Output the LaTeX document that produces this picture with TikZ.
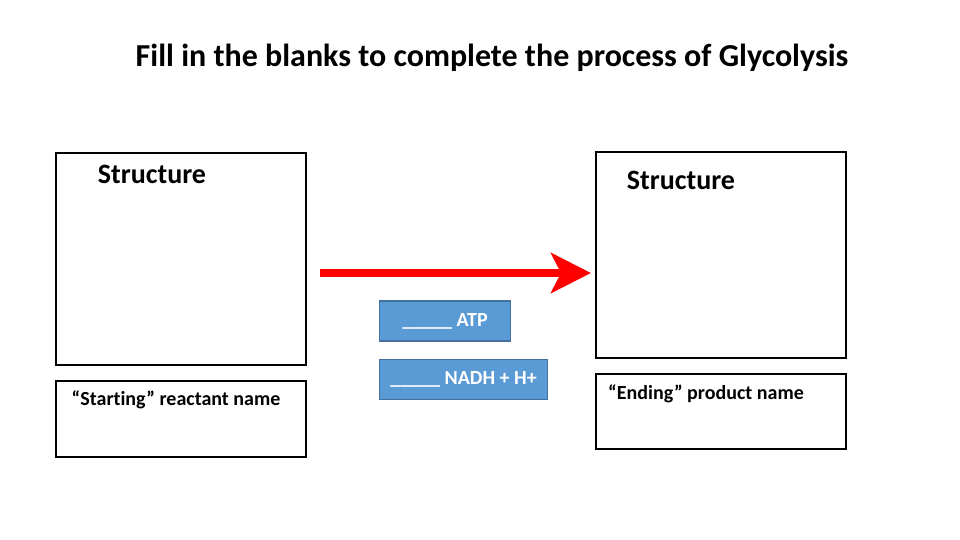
\documentclass[tikz,border=0pt]{standalone}
\usepackage{fontspec}
\setmainfont{Carlito}[Ligatures=NoCommon]
\usetikzlibrary{arrows.meta, positioning}
\definecolor{yieldfill}{RGB}{91,155,213}
\definecolor{yieldline}{RGB}{65,113,156}

\begin{document}
\begin{tikzpicture}[
  x=1pt, y=-1pt,
  font=\bfseries,
  blank/.style   ={rectangle, draw=black, line width=2pt, inner sep=0pt},
  energy/.style  ={rectangle, draw=yieldline, fill=yieldfill, line width=1.5pt, text=white, font=\bfseries\fontsize{20}{22}\selectfont, minimum height=40pt, inner sep=0pt},
  caption/.style ={font=\bfseries\fontsize{20}{22}\selectfont},
  heading/.style ={font=\bfseries\fontsize{28}{32}\selectfont},
  arr/.style     ={-{Stealth[length=40pt, width=40pt, inset=10pt]}, line width=8pt, draw=red}
]
\useasboundingbox (0,0) rectangle (960,540);

% ---- title ----
\node[font=\bfseries\fontsize{32}{36}\selectfont] (title) at (492,58) {Fill in the blanks to complete the process of Glycolysis};

% ---- left side: reactant ----
\node[blank, minimum width=250pt, minimum height=212pt] (lstruct) at (181,259) {};
\node[blank, minimum width=250pt, minimum height=76pt]  (lname)   at (181,419) {};
\node[heading] (ltext) at (152,174) {Structure};
\node[caption] (lcap)  at (176,400) {``Starting'' reactant name};

% ---- right side: product ----
\node[blank, minimum width=250pt, minimum height=205pt] (rstruct) at (721,255) {};
\node[blank, minimum width=250pt, minimum height=75pt]  (rname)   at (721,411) {};
\node[heading] (rtext) at (681,180) {Structure};
\node[caption] (rcap)  at (706,394) {``Ending'' product name};

% ---- middle: arrow and yields ----
\coordinate (arrstart) at (320,273);
\draw[arr] (arrstart) -- ([xshift=-4pt]rstruct.west |- arrstart);
\node[energy, minimum width=131pt] (atp)  at (445,321) {\_\_\_\_\_ ATP};
\node[energy, minimum width=168pt] (nadh) at (463.5,379.5) {\_\_\_\_\_ NADH + H+};

\end{tikzpicture}
\end{document}
